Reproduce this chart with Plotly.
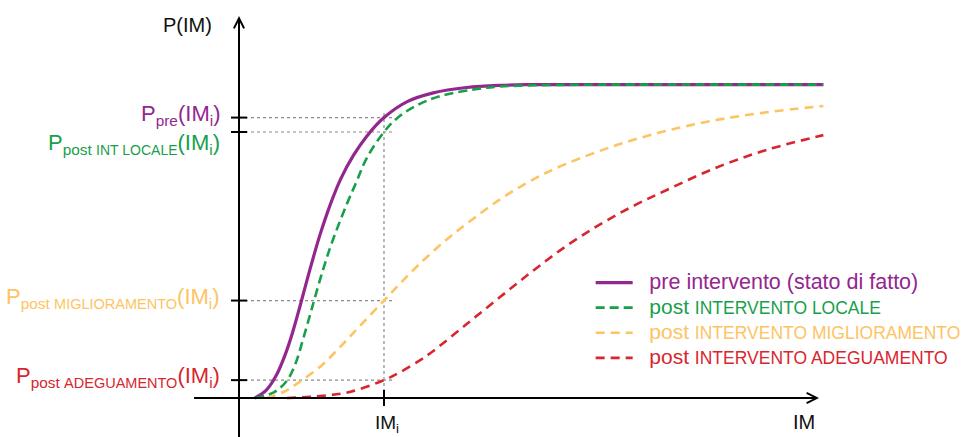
import plotly.graph_objects as go

# Intensity measure of interest and the axis extents (IM units / probability)
IM_I = 1.0
IM_AXIS_END = 4.0
IM_AXIS_START = -0.32
P_AXIS_TOP = 1.219
P_AXIS_BOTTOM = -0.13

# Fragility curves: P(IM) for the existing building and the three retrofit options
IM_PRE = [0.11, 0.19, 0.26, 0.32, 0.37, 0.42, 0.47, 0.52, 0.56, 0.63, 0.70, 0.79,
          0.88, 1.00, 1.16, 1.34, 1.57, 1.80, 2.00, 4.03]
P_PRE = [0.000, 0.026, 0.075, 0.140, 0.210, 0.292, 0.378, 0.461, 0.523, 0.618, 0.698, 0.775,
         0.835, 0.895, 0.946, 0.974, 0.991, 0.998, 1.000, 1.000]

IM_LOC = [0.11, 0.24, 0.33, 0.39, 0.44, 0.49, 0.52, 0.58, 0.64, 0.74, 0.81, 0.88,
          1.00, 1.09, 1.23, 1.39, 1.62, 1.80, 2.03, 2.49, 4.03]
P_LOC = [0.000, 0.018, 0.055, 0.110, 0.185, 0.265, 0.315, 0.410, 0.495, 0.615, 0.690, 0.765,
         0.849, 0.893, 0.935, 0.964, 0.985, 0.994, 0.998, 1.000, 1.000]

IM_MIG = [0.19, 0.31, 0.42, 0.56, 0.70, 0.83, 1.00, 1.11, 1.25, 1.43, 1.57, 1.80,
          2.03, 2.26, 2.61, 2.95, 3.29, 3.64, 4.03]
P_MIG = [0.000, 0.020, 0.052, 0.100, 0.164, 0.228, 0.311, 0.365, 0.430, 0.505, 0.556, 0.634,
         0.698, 0.748, 0.808, 0.853, 0.887, 0.912, 0.932]

IM_ADE = [0.33, 0.58, 0.77, 1.00, 1.11, 1.25, 1.34, 1.57, 1.80, 2.03, 2.26, 2.49,
          2.72, 2.95, 3.29, 3.64, 4.03]
P_ADE = [0.000, 0.007, 0.020, 0.057, 0.082, 0.121, 0.150, 0.236, 0.322, 0.407, 0.486, 0.554,
         0.613, 0.664, 0.735, 0.792, 0.839]

PURPLE = "#93278F"
GREEN = "#17A04B"
YELLOW = "#FDC463"
RED = "#D7262E"
GUIDE = "#8a8a8a"
FONT = "Liberation Sans, Arial, sans-serif"

# Leading gap between legend key and legend text
GAP = "<span style='font-size:21px'>\u00a0\u00a0</span>"

LEGEND_NAMES = [
    "<span style='font-size:21.5px'>pre intervento (stato di fatto)</span>",
    "<span style='font-size:21px'>post </span><span style='font-size:17.5px'>INTERVENTO LOCALE</span>",
    "<span style='font-size:21px'>post </span><span style='font-size:17.5px'>INTERVENTO MIGLIORAMENTO</span>",
    "<span style='font-size:21px'>post </span><span style='font-size:17.5px'>INTERVENTO ADEGUAMENTO</span>",
]

AXIS_LABELS = [
    "P<sub>pre</sub>(IM<sub>i</sub>)",
    "P<sub>post <span style='font-size:14px'>INT LOCALE</span></sub>(IM<sub>i</sub>)",
    "P<sub>post <span style='font-size:14.5px'>MIGLIORAMENTO</span></sub>(IM<sub>i</sub>)",
    "P<sub>post <span style='font-size:14.5px'>ADEGUAMENTO</span></sub>(IM<sub>i</sub>)",
]

curves = [
    (IM_PRE, P_PRE, PURPLE, "solid", 3.2),
    (IM_LOC, P_LOC, GREEN, "9px,5px", 2.6),
    (IM_MIG, P_MIG, YELLOW, "9px,6px", 2.6),
    (IM_ADE, P_ADE, RED, "9px,6px", 2.6),
]

fig = go.Figure()
for (xs, ys, color, dash, width), name in zip(curves, LEGEND_NAMES):
    fig.add_trace(go.Scatter(
        x=xs, y=ys, mode="lines",
        name=f"{GAP}<span style='color:{color}'>{name}</span>",
        line=dict(color=color, dash=dash, width=width, shape="spline", smoothing=1.0),
    ))

# Probability of each curve at IM_i
p_at_im_i = [ys[xs.index(IM_I)] for xs, ys, *_ in curves]

shapes = []
annotations = []

# Dotted guides from the y axis to IM_i, plus the vertical guide at IM_i
for p in p_at_im_i:
    shapes.append(dict(type="line", xref="x", yref="y", x0=0, x1=IM_I + 0.055, y0=p, y1=p,
                       line=dict(color=GUIDE, width=1.2, dash="3px,3px"), layer="below"))
    shapes.append(dict(type="line", xref="x", yref="y", xsizemode="pixel", xanchor=0,
                       x0=-8, x1=8, y0=p, y1=p, line=dict(color="black", width=2)))
shapes.append(dict(type="line", xref="x", yref="y", x0=IM_I, x1=IM_I, y0=0,
                   y1=max(p_at_im_i) + 0.017,
                   line=dict(color=GUIDE, width=1.2, dash="3px,3px"), layer="below"))
shapes.append(dict(type="line", xref="x", yref="y", ysizemode="pixel", yanchor=0,
                   x0=IM_I, x1=IM_I, y0=-8, y1=8, line=dict(color="black", width=2)))

# Axes drawn as arrows
annotations.append(dict(x=IM_AXIS_END, y=0, ax=IM_AXIS_START, ay=0, xref="x", yref="y",
                        axref="x", ayref="y", text="", showarrow=True, arrowhead=5,
                        arrowsize=1.0, arrowwidth=2, arrowcolor="black"))
annotations.append(dict(x=0, y=P_AXIS_TOP, ax=0, ay=P_AXIS_BOTTOM, xref="x", yref="y",
                        axref="x", ayref="y", text="", showarrow=True, arrowhead=5,
                        arrowsize=1.0, arrowwidth=2, arrowcolor="black"))

# Axis titles
annotations.append(dict(x=0, y=P_AXIS_TOP, xref="x", yref="y", text="P(IM)", showarrow=False,
                        xanchor="right", yanchor="middle", xshift=-25, yshift=-9,
                        font=dict(size=20, color="#111111", family=FONT)))
annotations.append(dict(x=IM_AXIS_END, y=0, xref="x", yref="y", text="IM", showarrow=False,
                        xanchor="right", yanchor="top", xshift=-2, yshift=-11,
                        font=dict(size=20, color="#111111", family=FONT)))
annotations.append(dict(x=IM_I, y=0, xref="x", yref="y", text="IM<sub>i</sub>",
                        showarrow=False, xanchor="center", yanchor="top", xshift=3, yshift=-12,
                        font=dict(size=19, color="#111111", family=FONT)))

# Probability labels on the y axis
label_shift = [3, -12, 3, 3]
for p, text, (_, _, color, _, _), dy in zip(p_at_im_i, AXIS_LABELS, curves, label_shift):
    annotations.append(dict(x=0, y=p, xref="x", yref="y", text=text, showarrow=False,
                            xanchor="right", yanchor="middle", xshift=-17, yshift=dy,
                            font=dict(size=22, color=color, family=FONT)))

fig.update_layout(
    width=962, height=437,
    margin=dict(l=0, r=0, t=0, b=0, autoexpand=False),
    paper_bgcolor="white", plot_bgcolor="white",
    xaxis=dict(range=[-1.6483, 4.9862], visible=False, fixedrange=True),
    yaxis=dict(range=[-0.1245, 1.2703], visible=False, fixedrange=True),
    shapes=shapes, annotations=annotations,
    showlegend=True,
    legend=dict(x=0.614, y=0.3936, xanchor="left", yanchor="top",
                bgcolor="rgba(0,0,0,0)", borderwidth=0, itemwidth=37,
                font=dict(size=17, family=FONT, color="black"), tracegroupgap=0),
)

fig.write_html("out.html")
